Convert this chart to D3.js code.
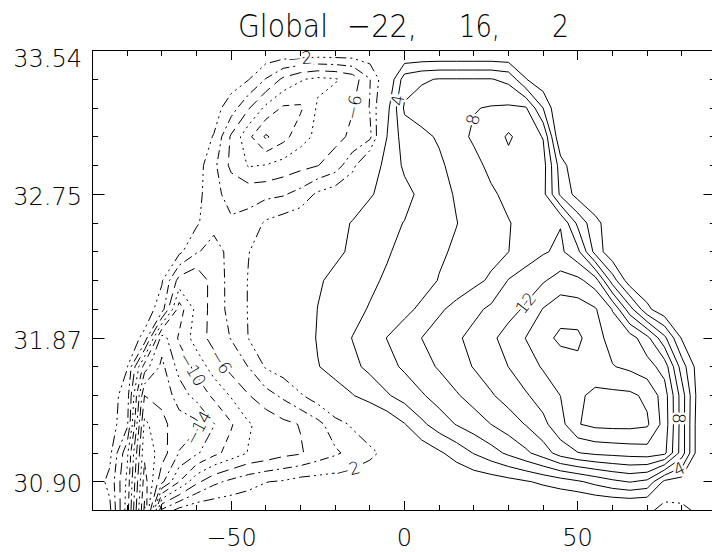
<!DOCTYPE html>
<html>
<head>
<meta charset="utf-8">
<script src="https://cdn.jsdelivr.net/npm/d3@7"></script>
<style>
  body { margin: 0; background: #fff; }
  svg { display: block; }
</style>
</head>
<body>
<svg id="chart" width="712" height="552"></svg>
<script>
// Grid columns (longitude-like units) and row labels
const lonValues = [-90, -85, -80, -75, -70, -65, -60, -55, -50, -45, -40, -35, -30, -25, -20, -15, -10, -5,
  0, 5, 10, 15, 20, 25, 30, 35, 40, 45, 50, 55, 60, 65, 70, 75, 80, 85, 90];
const lonTicks = [-50, 0, 50];
const lonMinorTicks = [-80, -70, -60, -40, -30, -20, -10, 10, 20, 30, 40, 60, 70, 80];
const rowTickIndex = [1, 6, 11, 16];
const rowTickLabels = ["30.90", "31.87", "32.75", "33.54"];
const rowMinorTicks = [0, 2, 3, 4, 5, 7, 8, 9, 10, 12, 13, 14, 15];
const contourLevels = [-22, -20, -18, -16, -14, -12, -10, -8, -6, -4, -2, 2, 4, 6, 8, 10, 12, 14, 16];
const titleParts = ["Global", "\u221222,", "16,", "2"];

// Field values, one array per row, top row (index 16) first
const fieldRows = [
  [-0.9,-0.9,-0.9,-0.9,-0.9,-0.9,-0.8,-0.7,-0.6,-0.5,-0.2,-0.1,0.0,0.0,0.0,-0.1,-0.2,-0.4,-0.46,-0.46,-0.46,-0.46,-0.46,-0.46,-0.46,-0.3,0.0,0.2,0.3,0.3,0.3,0.3,0.3,0.3,0.3,0.3,0.3],
  [-0.9,-0.9,-0.9,-0.9,-0.9,-0.8,-0.7,-0.5,-1.0,-1.9,-4.1,-6.4,-7.8,-8.5,-8.2,-7.2,-4.1,0.0,5.0,5.8,6.1,6.1,6.1,6.1,5.5,2.1,0.5,0.3,0.3,0.3,0.3,0.3,0.3,0.3,0.3,0.3,0.3],
  [-0.9,-0.9,-0.9,-0.9,-0.9,-0.9,-0.8,-1.2,-3.0,-5.8,-8.5,-10.3,-10.3,-7.7,-6.8,-6.1,-3.9,1.4,6.3,6.8,7.2,7.5,7.9,8.15,8.3,8.2,4.0,-0.3,0.3,0.3,0.3,0.3,0.3,0.3,0.3,0.3,0.3],
  [-0.9,-0.9,-0.9,-0.9,-0.9,-0.9,-1.0,-2.1,-6.3,-9.5,-12.3,-10.7,-8.8,-7.5,-6.6,-5.6,-4.5,2.05,5.0,5.6,6.2,7.3,8.3,8.8,10.3,9.0,7.9,0.0,0.3,0.3,0.3,0.3,0.3,0.3,0.3,0.3,0.3],
  [-0.9,-0.9,-0.9,-0.9,-0.9,-0.9,-1.0,-3.5,-6.5,-8.15,-7.9,-7.2,-6.6,-6.05,-5.0,-2.6,0.7,2.7,4.3,5.0,5.7,6.6,7.4,8.5,9.3,9.5,8.8,3.0,0.2,0.3,0.3,0.3,0.3,0.3,0.3,0.3,0.3],
  [-1.0,-1.0,-1.0,-1.0,-1.0,-1.0,-1.2,-3.6,-4.5,-4.7,-4.5,-4.2,-3.3,-1.6,-0.8,0.0,1.8,2.7,3.5,4.4,5.3,6.2,7.0,7.7,8.5,9.1,8.6,3.6,1.2,0.3,0.3,0.3,0.3,0.3,0.3,0.3,0.3],
  [-1.0,-1.0,-1.0,-1.0,-1.0,-1.0,-1.7,-3.4,-3.8,-3.3,-1.7,-1.0,-0.5,0.0,0.9,2.2,3.0,3.6,4.05,4.9,5.6,5.95,6.7,7.4,7.9,8.6,9.4,9.9,5.5,2.6,0.8,0.3,0.3,0.3,0.3,0.3,0.3],
  [-0.9,-0.9,-0.9,-0.9,-0.8,-1.5,-3.8,-4.8,-3.4,-2.05,-1.2,-0.6,-0.2,0.4,1.5,2.4,3.1,3.8,4.6,5.1,5.7,6.3,6.9,7.4,7.98,8.9,9.8,10.4,8.5,3.3,0.5,0.3,0.3,0.3,0.3,0.3,0.3],
  [-0.8,-0.8,-0.8,-0.8,-1.8,-6.8,-7.8,-5.0,-3.4,-1.9,-1.0,-0.3,0.5,1.7,2.6,3.1,3.6,4.3,4.8,5.2,6.1,6.8,7.5,8.3,10.1,11.0,11.8,12.8,12.5,11.0,5.0,0.8,0.3,0.3,0.3,0.3,0.3],
  [-0.7,-0.7,-0.8,-0.8,-3.0,-11.0,-7.4,-5.2,-3.3,-1.9,-1.0,-0.3,0.4,2.05,2.8,3.4,4.15,4.8,5.5,6.4,7.7,8.6,9.5,10.4,11.3,12.3,14.1,15.2,15.0,14.2,11.9,6.8,2.5,0.5,0.3,0.3,0.3],
  [-0.6,-0.7,-0.8,-2.5,-13.0,-9.7,-7.0,-5.3,-3.9,-1.95,-0.7,-0.1,0.6,2.2,3.1,4.05,5.0,6.05,7.0,8.02,8.9,9.7,10.6,11.6,12.8,14.05,15.4,16.4,16.4,14.8,13.2,13.0,10.6,6.5,1.8,0.5,0.3],
  [-0.5,-0.9,-1.9,-11.0,-14.5,-11.3,-9.4,-7.0,-5.3,-3.95,-1.8,-1.0,-0.2,1.9,2.8,3.6,4.4,5.4,6.3,7.3,8.2,9.2,10.1,11.0,12.02,13.1,14.2,15.0,15.5,15.0,14.1,13.6,12.8,11.2,5.0,0.8,0.3],
  [-0.6,-1.0,-3.0,-16.0,-15.5,-13.0,-11.3,-9.6,-7.8,-6.1,-4.8,-3.6,-2.2,-0.9,1.0,1.9,2.9,3.8,4.8,5.8,6.8,7.8,8.8,9.8,10.8,11.8,12.8,14.02,15.7,16.4,16.5,16.4,15.6,13.0,7.0,0.8,0.2],
  [-0.5,-1.0,-3.5,-18.5,-16.5,-15.0,-14.5,-12.1,-10.2,-8.2,-7.3,-6.5,-5.9,-4.6,-2.9,-1.7,-0.8,0.5,1.9,3.6,5.0,6.1,7.0,8.02,9.0,10.1,11.5,13.3,15.9,16.5,16.6,16.6,16.3,13.2,7.0,0.5,-0.2],
  [-0.6,-1.5,-7.5,-19.5,-17.0,-13.9,-12.3,-10.6,-9.2,-7.9,-7.4,-6.6,-6.2,-5.1,-4.3,-3.4,-2.4,-1.5,-0.5,0.7,1.7,2.8,4.1,5.2,6.4,7.6,9.0,10.9,11.9,12.4,12.6,12.8,13.0,12.5,7.0,0.5,-0.5],
  [-0.8,-2.5,-8.5,-21.0,-14.5,-10.0,-6.5,-4.5,-3.5,-2.7,-2.05,-1.8,-1.2,-1.1,-1.0,-0.8,-0.8,-0.7,-0.6,-0.4,-0.2,0.3,0.6,0.9,1.3,1.8,2.4,3.0,3.7,4.6,5.5,6.1,5.5,1.5,1.0,0.2,-0.5],
  [-0.6,-1.6,-9.0,-22.5,-3.5,-1.2,-0.3,-0.3,-0.3,-0.4,-0.5,-0.6,-0.6,-0.7,-0.7,-0.7,-0.7,-0.8,-0.8,-0.9,-0.9,-0.9,-0.9,-0.9,-1.0,-1.0,-1.0,-1.0,-1.2,-1.0,-1.0,-1.0,-1.0,-3.5,-3.0,-1.2,-0.8]
];

// Where the in-line contour labels sit: level and an approximate spot (lon, row index)
const labelSpots = [
  { level: -2, lon: -30.2, row: 15.8 },
  { level: -6, lon: -15.7, row: 14.05 },
  { level: -6, lon: -52.6, row: 5.2 },
  { level: -10, lon: -61.3, row: 4.9 },
  { level: -14, lon: -57.6, row: 2.75 },
  { level: -2, lon: -16.6, row: 1.5 },
  { level: 4, lon: -3.3, row: 14.3 },
  { level: 8, lon: 19.7, row: 13.6 },
  { level: 12, lon: 34.1, row: 7.3 },
  { level: 8, lon: 75.4, row: 3.2 },
  { level: 4, lon: 80.0, row: 1.25 }
];

const FONT = '"DejaVu Sans", "Liberation Sans", sans-serif';
const svg = d3.select("#chart");

// Plot scales (marks) and rounded copies for crisp axis ticks
const x = d3.scaleLinear().domain([-90, 90]).range([92.5, 716.5]);
const y = d3.scaleLinear().domain([0, 16]).range([510.5, 50.5]);
const xAxisScale = d3.scaleLinear().domain([-90, 90]).range([92, 716]).interpolate(d3.interpolateRound);
const yAxisScale = d3.scaleLinear().domain([0, 16]).range([510, 50]).interpolate(d3.interpolateRound);

svg.append("rect").attr("width", 712).attr("height", 552).attr("fill", "#fff");

svg.append("defs").append("clipPath").attr("id", "plotClip")
  .append("rect").attr("x", 92.5).attr("y", 50.5).attr("width", 624).attr("height", 460);

// ---- contours ----
const nx = lonValues.length, ny = fieldRows.length;
const flat = fieldRows.flat();
const colToLon = d3.scaleLinear().domain(d3.range(nx)).range(lonValues);
const contourSets = d3.contours().size([nx, ny]).thresholds(contourLevels)(flat);

function gridToPx(pt) {
  const ci = Math.max(0, Math.min(nx - 1, pt[0] - 0.5));
  const ri = Math.max(0, Math.min(ny - 1, pt[1] - 0.5));
  return { ci, ri, px: x(colToLon(ci)), py: y((ny - 1) - ri) };
}
function alongBorder(a, b) {
  return (a.ci === 0 && b.ci === 0) || (a.ci === nx - 1 && b.ci === nx - 1) ||
         (a.ri === 0 && b.ri === 0) || (a.ri === ny - 1 && b.ri === ny - 1);
}

// negative levels are broken lines, cycling through several patterns
const dashFor = lv => {
  if (lv > 0) return null;
  const styles = ["11,4,2,4,2,4,2,4", "9,4,2,4", "12,6", "2,4", "7,5"];
  return styles[(Math.round(-lv / 2) - 1) % styles.length];
};

const segmentsByLevel = new Map();
const lineLayer = svg.append("g").attr("clip-path", "url(#plotClip)");

contourSets.forEach(set => {
  const lv = set.value;
  if (!contourLevels.includes(lv)) return;
  const segs = [];
  let d = "";
  set.coordinates.forEach(polygon => {
    polygon.forEach(ring => {
      let pen = null;
      for (let i = 0; i < ring.length - 1; i++) {
        const a = gridToPx(ring[i]), b = gridToPx(ring[i + 1]);
        if (alongBorder(a, b)) { pen = null; continue; }
        if (!pen || pen.px !== a.px || pen.py !== a.py) d += `M${a.px.toFixed(2)},${a.py.toFixed(2)}`;
        d += `L${b.px.toFixed(2)},${b.py.toFixed(2)}`;
        segs.push([a, b]);
        pen = b;
      }
    });
  });
  segmentsByLevel.set(lv, segs);
  if (!d) return;
  const path = lineLayer.append("path")
    .attr("d", d)
    .attr("fill", "none")
    .attr("stroke", "#000")
    .attr("stroke-width", 1)
    .attr("stroke-linejoin", "round");
  const dash = dashFor(lv);
  if (dash) path.attr("stroke-dasharray", dash);
});

// ---- contour labels, set on the nearest point of their own level ----
const labelLayer = svg.append("g").attr("clip-path", "url(#plotClip)");
labelSpots.forEach(spot => {
  const segs = segmentsByLevel.get(spot.level) || [];
  const tx = x(spot.lon), ty = y(spot.row);
  let best = null;
  segs.forEach(([a, b]) => {
    const vx = b.px - a.px, vy = b.py - a.py;
    const len2 = vx * vx + vy * vy;
    let t = len2 > 0 ? ((tx - a.px) * vx + (ty - a.py) * vy) / len2 : 0;
    t = Math.max(0, Math.min(1, t));
    const qx = a.px + t * vx, qy = a.py + t * vy;
    const dist = Math.hypot(qx - tx, qy - ty);
    if (!best || dist < best.dist) best = { dist, qx, qy, ang: Math.atan2(vy, vx) * 180 / Math.PI };
  });
  if (!best) return;
  let ang = best.ang;
  if (ang > 90) ang -= 180;
  if (ang < -90) ang += 180;
  labelLayer.append("text")
    .attr("transform", `translate(${best.qx},${best.qy}) rotate(${ang})`)
    .attr("text-anchor", "middle")
    .attr("dy", "0.36em")
    .attr("font-family", FONT)
    .attr("font-weight", 200)
    .attr("font-size", 17)
    .attr("fill", "#000")
    .attr("stroke", "#fff")
    .attr("stroke-width", 5)
    .attr("paint-order", "stroke")
    .text(spot.level < 0 ? "\u2212" + Math.abs(spot.level) : String(spot.level));
});

// ---- axes ----
function styleAxis(g) {
  g.select(".domain").remove();
  g.selectAll("line").attr("stroke", "#000").attr("stroke-width", 1);
  g.attr("font-family", FONT).attr("font-size", 24).attr("font-weight", 200);
  g.selectAll("text").attr("fill", "#000");
}
const fmtLon = d => (d < 0 ? "\u2212" + Math.abs(d) : String(d));

svg.append("g").attr("transform", "translate(0,510)")
  .call(d3.axisBottom(xAxisScale).tickValues(lonTicks).tickSize(-9).tickPadding(19).tickFormat(fmtLon))
  .call(styleAxis);
svg.append("g").attr("transform", "translate(0,510)")
  .call(d3.axisBottom(xAxisScale).tickValues(lonMinorTicks).tickSize(-5).tickFormat(""))
  .call(styleAxis);
svg.append("g").attr("transform", "translate(0,51)")
  .call(d3.axisTop(xAxisScale).tickValues(lonTicks).tickSize(-9).tickFormat(""))
  .call(styleAxis);
svg.append("g").attr("transform", "translate(0,51)")
  .call(d3.axisTop(xAxisScale).tickValues(lonMinorTicks).tickSize(-5).tickFormat(""))
  .call(styleAxis);

const leftMajor = svg.append("g").attr("transform", "translate(92,0)")
  .call(d3.axisLeft(yAxisScale).tickValues(rowTickIndex).tickSize(-12.5).tickPadding(10)
    .tickFormat((d, i) => rowTickLabels[i]))
  .call(styleAxis);
leftMajor.selectAll("text").attr("dy", d => (d === 16 ? "16px" : "10.5px"));
svg.append("g").attr("transform", "translate(92,0)")
  .call(d3.axisLeft(yAxisScale).tickValues(rowMinorTicks).tickSize(-6.2).tickFormat(""))
  .call(styleAxis);
svg.append("g").attr("transform", "translate(716,0)")
  .call(d3.axisRight(yAxisScale).tickValues(rowTickIndex).tickSize(-12.5).tickFormat(""))
  .call(styleAxis);
svg.append("g").attr("transform", "translate(716,0)")
  .call(d3.axisRight(yAxisScale).tickValues(rowMinorTicks).tickSize(-6.2).tickFormat(""))
  .call(styleAxis);

// frame
svg.append("rect")
  .attr("x", 92.5).attr("y", 50.5).attr("width", 624).attr("height", 460)
  .attr("fill", "none").attr("stroke", "#000").attr("stroke-width", 1);

// ---- title ----
const titleSlots = [
  { start: 238, width: 90 },
  { start: 347, width: 70 },
  { start: 459, width: 41 },
  { start: 552, width: 17 }
];
const title = svg.append("g").attr("font-family", FONT).attr("font-size", 32).attr("font-weight", 200);
titleParts.forEach((t, i) => {
  title.append("text")
    .attr("x", titleSlots[i].start).attr("y", 37)
    .attr("textLength", titleSlots[i].width)
    .attr("lengthAdjust", "spacingAndGlyphs")
    .attr("fill", "#000")
    .text(t);
});
</script>
</body>
</html>
